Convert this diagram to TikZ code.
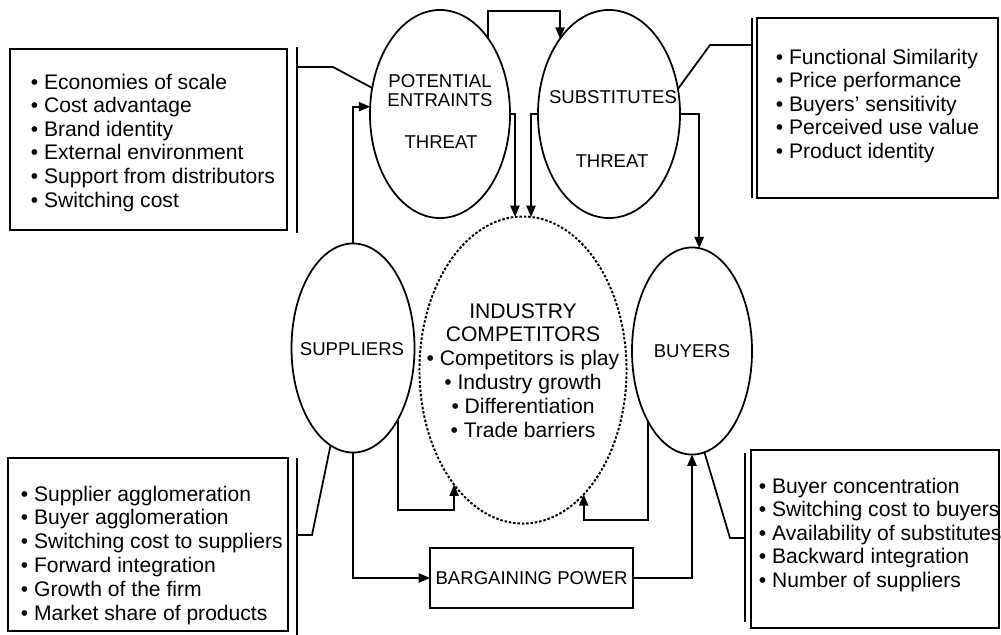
\documentclass[tikz,border=0pt]{standalone}
\usepackage{fontspec}
\setmainfont{Liberation Sans}
\usetikzlibrary{shapes.geometric,arrows.meta}
\begin{document}
\begin{tikzpicture}[x=0.025cm,y=-0.025cm,
  line width=1.25pt,
  ell/.style={draw,ellipse,inner sep=0pt,outer sep=0pt},
  dottedell/.style={draw,ellipse,inner sep=0pt,outer sep=0pt,line width=1.4pt,dash pattern=on 1.8pt off 1.3pt},
  boxst/.style={draw,rectangle,inner sep=0pt,outer sep=0pt},
  lbl/.style={font=\fontsize{13.2}{15}\selectfont,inner sep=0pt,anchor=base},
  itm/.style={font=\fontsize{15}{17}\selectfont,inner sep=0pt,anchor=base west},
  ictxt/.style={font=\fontsize{15}{17}\selectfont,inner sep=0pt,anchor=base},
  arr/.style={-{Triangle[length=8pt,width=6.5pt]}}]

\useasboundingbox[fill=white] (0,0) rectangle (1001,634);

% ellipses
\node[ell,minimum width=3.5cm,minimum height=5.2cm] (pe) at (440,114) {};
\node[ell,minimum width=3.55cm,minimum height=5.2cm] (sub) at (609,114) {};
\node[dottedell,minimum width=5.175cm,minimum height=7.675cm] (ic) at (523,370) {};
\node[ell,minimum width=3.075cm,minimum height=5.225cm] (sup) at (353,348) {};
\node[ell,minimum width=3cm,minimum height=5.175cm] (buy) at (692,351) {};

% ellipse labels
\node[lbl] (pet1) at (440,87) {POTENTIAL};
\node[lbl] (pet2) at (440,106) {ENTRAINTS};
\node[lbl] (pet3) at (441,148) {THREAT};
\node[lbl] (subt1) at (613,103) {SUBSTITUTES};
\node[lbl] (subt2) at (612,167) {THREAT};
\node[lbl] (supt) at (352,355) {SUPPLIERS};
\node[lbl] (buyt) at (692,357) {BUYERS};

% industry competitors text
\foreach \t [count=\i] in {INDUSTRY,COMPETITORS,• Competitors is play,• Industry growth,• Differentiation,• Trade barriers}
  \node[ictxt] (ict\i) at (523,{318+23.8*(\i-1)}) {\t};

% bargaining power
\node[boxst,minimum width=5.075cm,minimum height=1.5cm,font=\fontsize{13.2}{15}\selectfont] (bp) at (531.5,578) {BARGAINING POWER};

% boxes
\node[boxst,minimum width=6.925cm,minimum height=4.525cm] (ltbox) at (148.5,139.5) {};
\node[boxst,minimum width=6.025cm,minimum height=4.5cm] (rtbox) at (877.5,108) {};
\node[boxst,minimum width=7.0cm,minimum height=4.325cm] (lbbox) at (148,544.5) {};
\node[boxst,minimum width=6.2cm,minimum height=4.45cm] (rbbox) at (875,539) {};

% bars beside boxes
\draw (297,47) -- (297,233);
\draw (752,18) -- (752,198);
\draw (297,458) -- (297,636);
\draw (745,453) -- (745,622);
\coordinate (ltbar) at (297,67);
\coordinate (rtbar) at (752,45);
\coordinate (lbbar) at (297,535);
\coordinate (rbbar) at (745,538);

% list texts
\foreach \t [count=\i] in {Economies of scale,Cost advantage,Brand identity,External environment,Support from distributors,Switching cost}
  \node[itm] (lt\i) at (30,{89+23.6*(\i-1)}) {• \t};
\foreach \t [count=\i] in {Functional Similarity,Price performance,Buyers' sensitivity,Perceived use value,Product identity}
  \node[itm] (rt\i) at (775,{64+23.5*(\i-1)}) {• \t};
\foreach \t [count=\i] in {Supplier agglomeration,Buyer agglomeration,Switching cost to suppliers,Forward integration,Growth of the firm,Market share of products}
  \node[itm] (lb\i) at (20,{501+23.8*(\i-1)}) {• \t};
\foreach \t [count=\i] in {Buyer concentration,Switching cost to buyers,Availability of substitutes,Backward integration,Number of suppliers}
  \node[itm] (rb\i) at (758,{493+23.5*(\i-1)}) {• \t};

% connectors
\draw (ltbar) -- (333,67) -- (pe.159);
\draw (sub.20) -- (710,45) -- (rtbar);
\draw (sup.257) -- (312,535) -- (lbbar);
\draw (buy.277) -- (730,538) -- (rbbar);

\draw[arr] (pe.58) |- (520,11) -| (sub.123);
\draw[arr] (pe.east) -| (ic.93);
\draw[arr] (sub.west) -| (ic.87);
\draw[arr] (sub.east) -| (buy.86);
\draw[arr] (sup.north) |- (pe.174);
\draw[arr] (sup.south) |- (bp.west);
\draw[arr] (bp.east) -| (buy.south);
\draw[arr] (sup.302) -- (sup.302 |- 0,510) -| (ic.239);
\draw[arr] (buy.238) -- (buy.238 |- 0,520) -| (ic.296);
\end{tikzpicture}
\end{document}
